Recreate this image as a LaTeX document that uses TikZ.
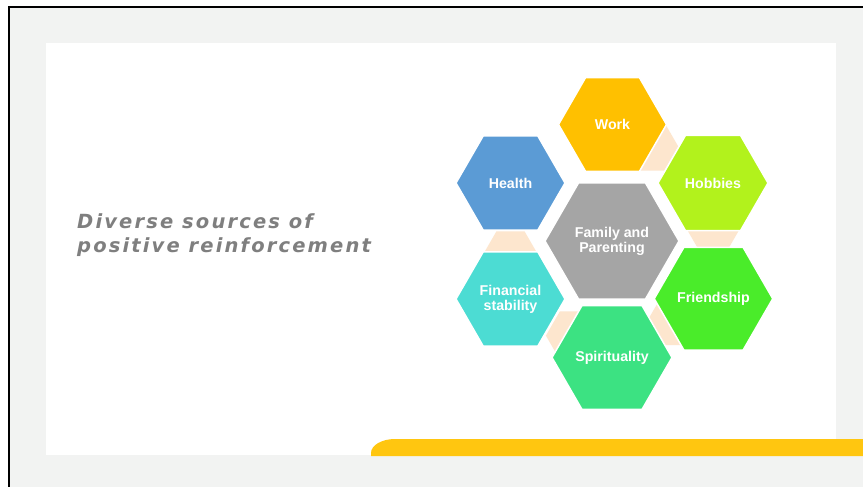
\documentclass[tikz,border=0pt]{standalone}
\usepackage{fontspec}
\setmainfont{Liberation Sans}
\newfontfamily\titlefont[LetterSpace=11]{DejaVu Sans}
\usetikzlibrary{shapes.geometric}
\definecolor{bggray}{HTML}{F2F3F2}
\definecolor{baryellow}{HTML}{FFC610}
\definecolor{cwork}{HTML}{FFC000}
\definecolor{chealth}{HTML}{5B9BD5}
\definecolor{chobbies}{HTML}{B2F21C}
\definecolor{cfamily}{HTML}{A5A5A5}
\definecolor{cfin}{HTML}{4CDCD3}
\definecolor{cfriend}{HTML}{4AEC2A}
\definecolor{cspirit}{HTML}{3CE282}
\definecolor{peachc}{HTML}{FDE6CE}
\definecolor{titlegray}{HTML}{7F7F7F}
\begin{document}
\begin{tikzpicture}[x=1pt,y=-1pt,
  hexa/.style={regular polygon, regular polygon sides=6, inner sep=0pt, outer sep=0pt,
    draw=white, line width=1.5pt, text=white,
    font=\fontsize{14.2}{15}\selectfont\bfseries, align=center},
  peachhex/.style={regular polygon, regular polygon sides=6, inner sep=0pt,
    fill=peachc, minimum size=56pt},
  titletext/.style={anchor=base west, inner sep=0pt, text=titlegray,
    font=\titlefont\fontsize{19.5}{24}\selectfont\bfseries\itshape}]
\useasboundingbox (0,0) rectangle (863,487);
\fill[white] (0,0) rectangle (863,487);
\fill[bggray] (9,7) rectangle (863,487);
\draw[black, line width=2.5pt] (9,487) -- (9,7) -- (863,7);
\fill[white] (46,43) rectangle (836,455);
\fill[baryellow] (371,456) -- (371,453)
  arc[start angle=180, end angle=270, x radius=24, y radius=14]
  -- (863,439) -- (863,456) -- cycle;

% connector hexagons (behind)
\node[peachhex] (p1) at (650.2,146.4) {};
\node[peachhex] (p2) at (713.2,226.4) {};
\node[peachhex] (p3) at (675.4,320.8) {};
\node[peachhex] (p4) at (573.9,335.6) {};
\node[peachhex] (p5) at (510.5,255.5) {};

% main hexagons
\node[hexa, fill=cwork, minimum size=108pt] (work) at (612.5,124.5) {Work};
\node[hexa, fill=chobbies, minimum size=110pt] (hobbies) at (713,183) {Hobbies};
\node[hexa, fill=chealth, minimum size=109pt] (health) at (510.5,183) {Health};
\node[hexa, fill=cfamily, minimum size=134pt] (family) at (612,241) {Family and\\Parenting};
\node[hexa, fill=cfin, minimum size=109pt] (fin) at (510.5,299) {Financial\\stability};
\node[hexa, fill=cfriend, minimum size=118pt] (friend) at (713.5,298.7) {Friendship};
\node[hexa, fill=cspirit, minimum size=120pt] (spirit) at (612,357.5) {Spirituality};

% title
\node[titletext] (t1) at (77,228) {Diverse sources of};
\node[titletext] (t2) at (77,252) {positive reinforcement};
\end{tikzpicture}
\end{document}
